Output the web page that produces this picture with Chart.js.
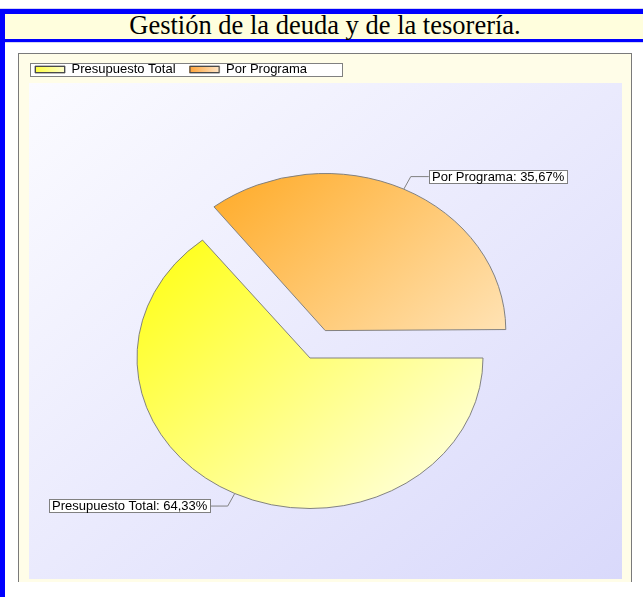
<!DOCTYPE html>
<html>
<head>
<meta charset="utf-8">
<title>Gestión de la deuda y de la tesorería.</title>
<script src="https://cdn.jsdelivr.net/npm/chart.js@4.4.1/dist/chart.umd.min.js"></script>
<style>
    html, body { margin: 0; padding: 0; background: #fff; overflow: hidden; }
    .page { position: relative; width: 643px; height: 597px; overflow: hidden; }
    .topline { position: absolute; left: 0; top: 8px; width: 643px; height: 1px; background: #d4d4f4; }
    .sidebar { position: absolute; left: 0; top: 9px; width: 5px; height: 588px; background: #0000ff; }
    .titlebar {
        position: absolute; left: 0; top: 9px; width: 640px; height: 25px;
        border-top: 5px solid #0000ff; border-left: 5px solid #0000ff; border-bottom: 3px solid #0000ff;
        box-shadow: 0 1px 0 #d4d4f4;
        background: #fffedd;
        font: 26.5px "Liberation Serif", "Times New Roman", serif; line-height: 25px;
        text-align: center; color: #000; white-space: nowrap;
    }
    .titlebar span { position: relative; top: -1px; }
    .frame {
        position: absolute; left: 18px; top: 53px; width: 612px; height: 528px;
        border: 1px solid #7a7a7a; border-bottom: none; background: #fffde8;
    }
    .plot {
        position: absolute; left: 29px; top: 83px; width: 593px; height: 496px;
        background: linear-gradient(to bottom right, #fbfbff, #d9d9fb);
    }
    .chart-box { position: absolute; left: 0; top: 0; width: 643px; height: 660px; }
</style>
</head>
<body>
<div class="page">
    <div class="topline"></div>
    <div class="titlebar"><span>Gestión de la deuda y de la tesorería.</span></div>
    <div class="sidebar"></div>
    <div class="frame"></div>
    <div class="plot"></div>
    <div class="chart-box"><canvas id="pieChart"></canvas></div>
</div>
<script>
// data
const LABELS = ['Presupuesto Total', 'Por Programa'];
const VALUES = [64.33, 35.67];
const OFFSETS = [0, 140];

// look
const SLICE_FROM = ['#ffff00', '#ffa416'];
const SLICE_TO = ['#fffff0', '#fff6e6'];
const SWATCH_FROM = ['#ffff40', '#ffa43a'];
const SWATCH_TO = ['#ffffd0', '#ffe6c8'];
const RADIUS = 173;
const TILT = 0.87;
const FONT = '"Liberation Sans", Arial, sans-serif';

Chart.defaults.font.family = FONT;

const sliceFill = (c) => {
    const area = c.chart.chartArea;
    if (!area) return SLICE_FROM[c.dataIndex];
    const cx = (area.left + area.right) / 2;
    const cy = (area.top + area.bottom) / 2;
    const g = c.chart.ctx.createLinearGradient(cx - RADIUS, cy - RADIUS, cx + RADIUS, cy + RADIUS);
    g.addColorStop(0, SLICE_FROM[c.dataIndex]);
    g.addColorStop(1, SLICE_TO[c.dataIndex]);
    return g;
};

// flatten the pie into an ellipse
const squash = {
    id: 'squash',
    beforeDatasetsDraw(chart) {
        const a = chart.chartArea;
        const cy = (a.top + a.bottom) / 2;
        chart.ctx.save();
        chart.ctx.translate(0, cy);
        chart.ctx.scale(1, TILT);
        chart.ctx.translate(0, -cy);
    },
    afterDatasetsDraw(chart) {
        chart.ctx.restore();
    }
};

// white box behind legend, gradient swatches and frame on top
const legendBox = {
    id: 'legendBox',
    beforeDraw(chart) {
        const boxes = chart.legend.legendHitBoxes;
        if (!boxes.length) return;
        const first = boxes[0], last = boxes[boxes.length - 1];
        chart.ctx.fillStyle = '#fff';
        chart.ctx.fillRect(first.left - 5, first.top, last.left + last.width + 35 - (first.left - 5), 14);
    },
    afterDraw(chart) {
        const ctx = chart.ctx;
        const boxes = chart.legend.legendHitBoxes;
        if (!boxes.length) return;
        ctx.save();
        boxes.forEach((b, i) => {
            const y = b.top + 3;
            const g = ctx.createLinearGradient(b.left, 0, b.left + 30, 0);
            g.addColorStop(0, SWATCH_FROM[i]);
            g.addColorStop(1, SWATCH_TO[i]);
            ctx.fillStyle = g;
            ctx.fillRect(b.left, y, 30, 7);
            ctx.strokeStyle = '#4a4a4a';
            ctx.lineWidth = 1;
            ctx.strokeRect(b.left + 0.5, y + 0.5, 29, 6);
        });
        const first = boxes[0], last = boxes[boxes.length - 1];
        const left = Math.round(first.left - 5);
        const right = Math.round(last.left + last.width + 35);
        ctx.strokeStyle = '#808080';
        ctx.strokeRect(left + 0.5, Math.round(first.top) + 0.5, right - left, 13);
        ctx.restore();
    }
};

// "label: xx,xx%" boxes with leader lines
const sliceLabels = {
    id: 'sliceLabels',
    afterDraw(chart) {
        const ctx = chart.ctx;
        const meta = chart.getDatasetMeta(0);
        const total = VALUES.reduce((s, v) => s + v, 0);
        ctx.save();
        ctx.font = '13px ' + FONT;
        ctx.textBaseline = 'middle';
        ctx.lineWidth = 1;
        meta.data.forEach((arc, i) => {
            const p = arc.getProps(['x', 'y', 'startAngle', 'endAngle', 'outerRadius', 'circumference'], true);
            const mid = (p.startAngle + p.endAngle) / 2;
            const shift = (arc.options.offset || 0) / 4;
            const fix = 1 - Math.sin(Math.min(Math.PI, p.circumference));
            const r = p.outerRadius + shift * fix;
            const cos = Math.cos(mid), sin = Math.sin(mid);
            const at = (d) => [p.x + cos * (shift + d), p.y + sin * (shift + d) * TILT];
            const [x0, y0] = at(r);
            const [x1, y1] = at(r + 16);
            const right = cos >= 0;
            const x2 = x1 + (right ? 18 : -18);
            const text = LABELS[i] + ': ' + (VALUES[i] / total * 100).toFixed(2).replace('.', ',') + '%';
            const w = Math.round(ctx.measureText(text).width + 6);
            const h = 14;
            const bx = Math.round(right ? x2 : x2 - w);
            const by = Math.round(y1 - h / 2);

            ctx.strokeStyle = '#808080';
            ctx.beginPath();
            ctx.moveTo(x0, y0);
            ctx.lineTo(x1, y1);
            ctx.lineTo(x2, y1);
            ctx.stroke();

            ctx.fillStyle = '#fff';
            ctx.fillRect(bx, by, w, h);
            ctx.strokeRect(bx + 0.5, by + 0.5, w, h - 1);
            ctx.fillStyle = '#000';
            ctx.fillText(text, bx + 3, by + h / 2 + 0.5);
        });
        ctx.restore();
    }
};

const pie = document.getElementById('pieChart');

const pieChart = new Chart(pie, {
    type: 'pie',
    data: {
        labels: LABELS,
        datasets: [{
            data: VALUES,
            backgroundColor: sliceFill,
            borderColor: '#7a7a7a',
            borderWidth: 1,
            offset: OFFSETS,
            hoverOffset: 0,
            radius: RADIUS,
            rotation: 90
        }]
    },
    options: {
        responsive: true,
        maintainAspectRatio: false,
        animation: false,
        events: [],
        layout: {
            padding: { left: 21, right: 44, top: 49, bottom: 30 }
        },
        plugins: {
            legend: {
                position: 'top',
                align: 'start',
                labels: {
                    boxWidth: 30,
                    boxHeight: 7,
                    padding: 14,
                    color: '#000',
                    font: { family: FONT, size: 13 }
                }
            },
            tooltip: { enabled: false }
        }
    },
    plugins: [squash, legendBox, sliceLabels]
});
</script>
</body>
</html>
